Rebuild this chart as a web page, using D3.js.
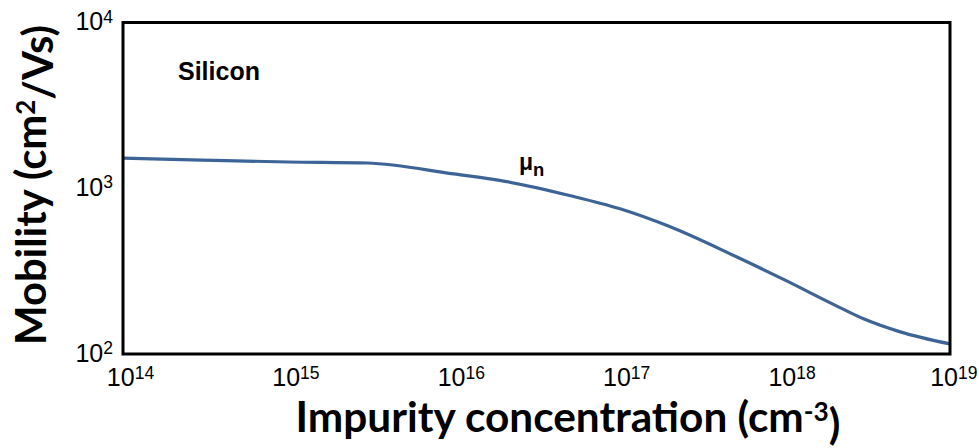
<!DOCTYPE html>
<html>
<head>
<meta charset="utf-8">
<script src="https://cdn.jsdelivr.net/npm/d3@7"></script>
<style>
  html, body { margin: 0; padding: 0; background: #fff; }
  svg { display: block; }
</style>
</head>
<body>
<svg id="chart" width="979" height="448"></svg>
<script>
// Electron mobility in silicon versus impurity concentration
const concentration = [1e14, 3e14, 1e15, 3e15, 1e16, 2e16, 5e16, 1e17, 2e17, 5e17, 1e18, 2e18, 3e18, 5e18, 1e19];
const mobilityN     = [1520, 1480, 1440, 1420, 1220, 1105, 904, 754, 589, 390, 280, 198, 163, 136, 115];

const xTickExponents = [14, 15, 16, 17, 18, 19];
const yTickExponents = [2, 3, 4];

const width = 979, height = 448;
const margin = { left: 123, right: 29, top: 22.5, bottom: 94 };

const svg = d3.select("#chart");

const x = d3.scaleLog()
  .domain([1e14, 1e19])
  .range([margin.left, width - margin.right]);
const y = d3.scaleLog()
  .domain([1e2, 1e4])
  .range([height - margin.bottom, margin.top]);

const tickFont = "'Liberation Sans', Arial, sans-serif";
const titleFont = "Lato, 'Open Sans', sans-serif";

// Mobility curve
const line = d3.line()
  .x((d, i) => x(concentration[i]))
  .y(d => y(d))
  .curve(d3.curveMonotoneX);

svg.append("path")
  .datum(mobilityN)
  .attr("d", line)
  .attr("fill", "none")
  .attr("stroke", "#3d6496")
  .attr("stroke-width", 3.2)
  .attr("stroke-linejoin", "round");

// Plot frame
svg.append("rect")
  .attr("x", x.range()[0])
  .attr("y", y.range()[1])
  .attr("width", x.range()[1] - x.range()[0])
  .attr("height", y.range()[0] - y.range()[1])
  .attr("fill", "none")
  .attr("stroke", "#000")
  .attr("stroke-width", 3);

// Power-of-ten tick label: "10" with a raised exponent
function powerLabel(sel, exp) {
  sel.append("tspan").text("10");
  sel.append("tspan")
    .attr("dy", "-0.42em")
    .attr("font-size", "0.7em")
    .text(exp);
}

// x axis labels
const xAxis = d3.axisBottom(x)
  .tickValues(xTickExponents.map(e => Math.pow(10, e)))
  .tickSize(0)
  .tickFormat("");
const gx = svg.append("g")
  .attr("transform", `translate(0,${y.range()[0]})`)
  .call(xAxis);
gx.select(".domain").remove();
gx.selectAll(".tick").each(function(d, i) {
  const t = d3.select(this).append("text")
    .attr("y", 32)
    .attr("x", 7)
    .attr("text-anchor", "middle")
    .attr("fill", "#000")
    .attr("font-family", tickFont)
    .attr("font-size", 25);
  powerLabel(t, xTickExponents[i]);
  // keep the last label inside the drawing
  const tickX = x(d);
  const half = t.node().getComputedTextLength() / 2;
  const overflow = tickX + 7 + half - (width - 2);
  if (overflow > 0) t.attr("x", 7 - overflow);
});

// y axis labels
const yAxis = d3.axisLeft(y)
  .tickValues(yTickExponents.map(e => Math.pow(10, e)))
  .tickSize(0)
  .tickFormat("");
const gy = svg.append("g")
  .attr("transform", `translate(${x.range()[0]},0)`)
  .call(yAxis);
gy.select(".domain").remove();
gy.selectAll(".tick").each(function(d, i) {
  const t = d3.select(this).append("text")
    .attr("x", -10)
    .attr("y", 7)
    .attr("text-anchor", "end")
    .attr("fill", "#000")
    .attr("font-family", tickFont)
    .attr("font-size", 25);
  powerLabel(t, yTickExponents[i]);
});

// Scale a text element's font so that it spans the given length
function fitLength(sel, target) {
  const base = +sel.attr("font-size");
  const len = sel.node().getComputedTextLength();
  sel.attr("font-size", base * target / len);
}

// Axis titles
const xTitle = svg.append("text")
  .attr("x", 568)
  .attr("y", 432)
  .attr("text-anchor", "middle")
  .attr("font-family", titleFont)
  .attr("font-weight", "bold")
  .attr("font-size", 40)
  .attr("fill", "#000");
xTitle.append("tspan").text("Impurity concentration (cm");
xTitle.append("tspan").attr("dy", "-0.42em").attr("font-size", "0.62em").text("-3");
xTitle.append("tspan").attr("dy", "0.42em").text(")");
fitLength(xTitle, 545);

const yTitle = svg.append("text")
  .attr("transform", "translate(46,185) rotate(-90)")
  .attr("text-anchor", "middle")
  .attr("font-family", titleFont)
  .attr("font-weight", "bold")
  .attr("font-size", 40)
  .attr("fill", "#000");
yTitle.append("tspan").text("Mobility (cm");
yTitle.append("tspan").attr("dy", "-0.42em").attr("font-size", "0.62em").text("2");
yTitle.append("tspan").attr("dy", "0.42em").text("/Vs)");
fitLength(yTitle, 320);

// Annotations
svg.append("text")
  .attr("x", 178)
  .attr("y", 80)
  .attr("font-family", tickFont)
  .attr("font-weight", "bold")
  .attr("font-size", 25)
  .attr("fill", "#000")
  .text("Silicon");

const mu = svg.append("text")
  .attr("x", 519)
  .attr("y", 170)
  .attr("font-family", tickFont)
  .attr("font-weight", "bold")
  .attr("font-size", 23)
  .attr("fill", "#000");
mu.append("tspan").text("μ");
mu.append("tspan").attr("dy", "0.3em").attr("font-size", "0.8em").text("n");
</script>
</body>
</html>
